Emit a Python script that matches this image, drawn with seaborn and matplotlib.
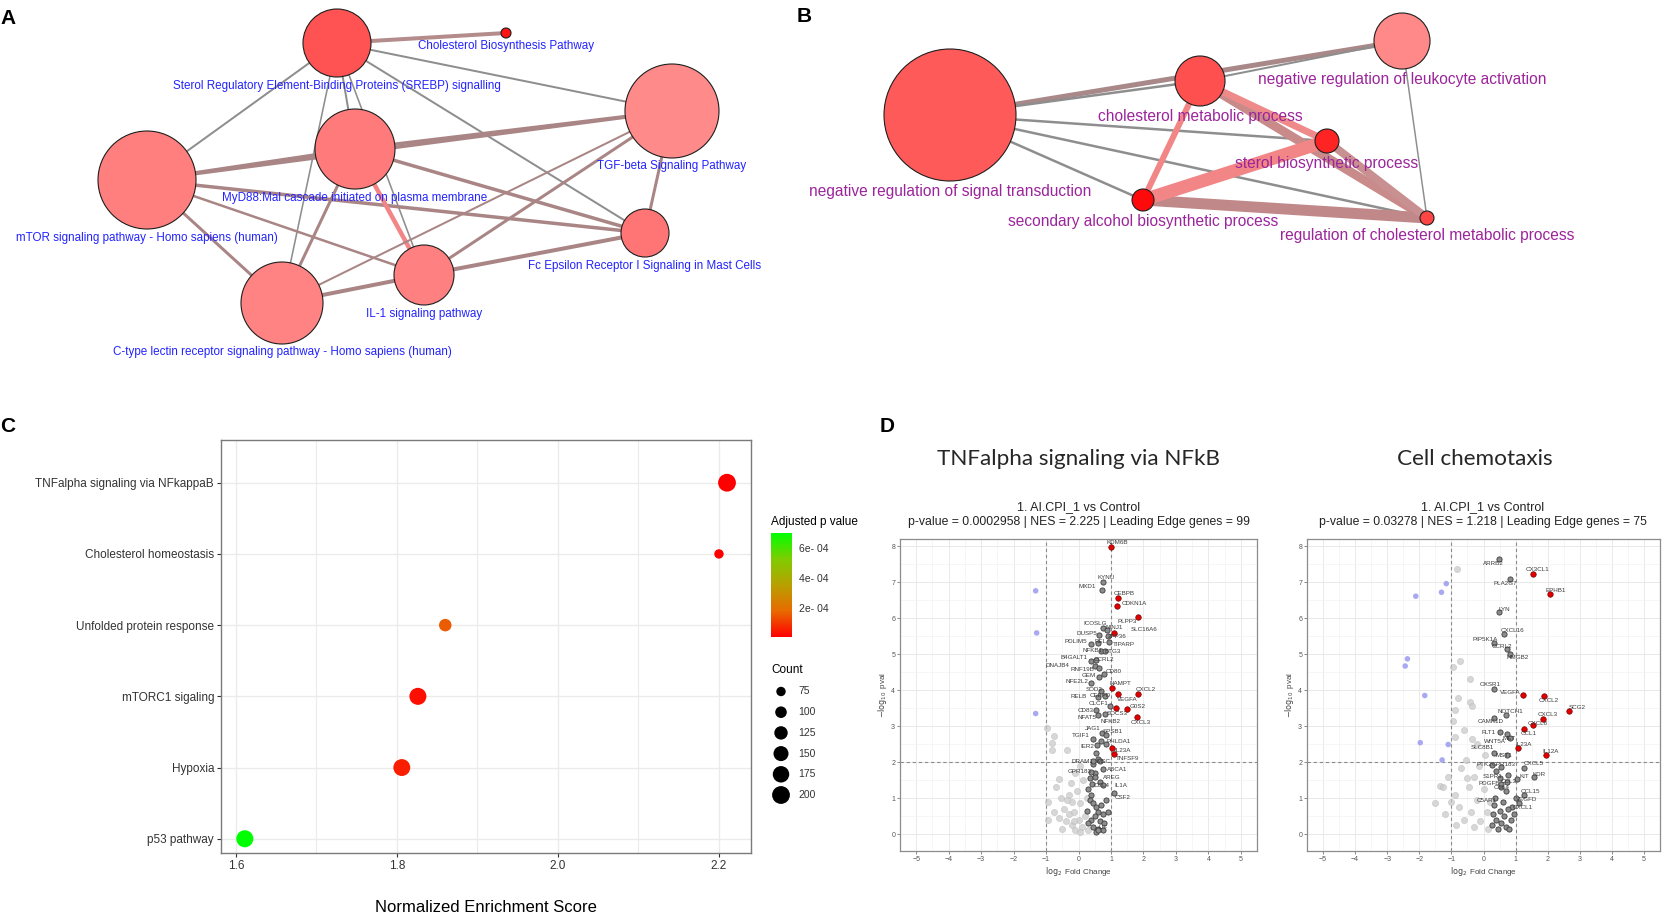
import numpy as np
import pandas as pd
import matplotlib
matplotlib.use('Agg')
import matplotlib.pyplot as plt
import seaborn as sns
from matplotlib.colors import LinearSegmentedColormap, Normalize
from matplotlib.patches import Circle
from matplotlib.cm import ScalarMappable

sns.set_theme(style='white')
plt.rcParams['font.family'] = ['Liberation Sans', 'DejaVu Sans']

W, H = 1668, 916

# ============================================================
# PANEL A - pathway network (Cytoscape style)
# ============================================================
a_nodes = ["Sterol Regulatory Element-Binding Proteins (SREBP) signalling",
           "Cholesterol Biosynthesis Pathway",
           "MyD88:Mal cascade initiated on plasma membrane",
           "TGF-beta Signaling Pathway",
           "mTOR signaling pathway - Homo sapiens (human)",
           "Fc Epsilon Receptor I Signaling in Mast Cells",
           "IL-1 signaling pathway",
           "C-type lectin receptor signaling pathway - Homo sapiens (human)"]
a_fill = ['#FF5252', '#FF1414', '#FF7A7A', '#FF8A8A', '#FF7E7E', '#FF7474', '#FF8080', '#FF8383']
# layout in pixels (x, y, radius)
a_x = [337, 506, 355, 672, 147, 645, 424, 282]
a_y = [43, 33, 149, 111, 180, 233, 275, 303]
a_r = [34, 5, 40, 47, 49, 24, 30, 41]
# edges: (from, to, width px, colour)
brown, grey, salmon = '#A98585', '#8E8E8E', '#F28686'
a_edges = [(0, 1, 4.0, '#B48C8C'), (0, 3, 2.0, grey), (0, 4, 2.0, grey), (0, 2, 2.0, grey),
           (0, 6, 1.6, grey), (0, 7, 1.6, grey), (0, 5, 2.0, grey),
           (4, 2, 3.5, brown), (4, 3, 3.5, brown), (2, 3, 3.5, brown), (4, 5, 3.5, brown),
           (4, 6, 2.5, brown), (4, 7, 3.0, brown), (2, 5, 3.5, brown), (2, 6, 4.5, salmon),
           (2, 7, 3.0, brown), (7, 3, 2.0, brown), (6, 3, 3.0, brown), (6, 5, 4.0, brown),
           (7, 6, 4.0, brown), (3, 5, 3.0, brown)]

# ============================================================
# PANEL B - GO term network
# ============================================================
b_nodes = ["negative regulation of signal transduction",
           "cholesterol metabolic process",
           "negative regulation of leukocyte activation",
           "sterol biosynthetic process",
           "secondary alcohol biosynthetic process",
           "regulation of cholesterol metabolic process"]
b_fill = ['#FF5A5A', '#FF5050', '#FF8888', '#FF2424', '#FF0A0A', '#FF4444']
b_x = [950, 1200, 1402, 1327, 1143, 1427]
b_y = [115, 81, 41, 141, 200, 218]
b_r = [66, 25, 28, 12, 11, 7]
b_edges = [(0, 2, 5.0, '#A88888'), (0, 1, 2.5, grey), (1, 2, 2.0, grey), (0, 3, 2.5, grey),
           (0, 5, 2.5, grey), (0, 4, 2.5, grey), (2, 5, 1.5, grey),
           (1, 5, 9.0, '#C98A8A'), (4, 5, 11.0, '#C08888'), (3, 5, 8.0, '#C89090'),
           (1, 4, 6.0, salmon), (1, 3, 7.0, '#EE8A8A'), (4, 3, 13.0, salmon)]

# ============================================================
# PANEL C - GSEA hallmark dot plot
# ============================================================
pathways = ["TNFalpha signaling via NFkappaB", "Cholesterol homeostasis",
            "Unfolded protein response", "mTORC1 sigaling", "Hypoxia", "p53 pathway"]
nes = [2.21, 2.20, 1.86, 1.826, 1.806, 1.611]
padj = [0.9e-5, 1.1e-5, 1.6e-4, 3.5e-5, 6.0e-5, 7.0e-4]
counts = [200, 53, 112, 185, 183, 186]
count_breaks = [75, 100, 125, 150, 175, 200]
padj_breaks = [2e-4, 4e-4, 6e-4]

# ============================================================
# PANEL D - volcano plots
# ============================================================
tnf_genes = ["KDM6B", "KYNU", "MXD1", "CEBPB", "CDKN1A", "PLPP3", "ICOSLG", "NINJ1", "SLC16A6",
             "DUSP5", "ZFP36", "PDLIM5", "REL", "TIPARP", "NFKB1", "BTG3", "B4GALT1", "CCRL2",
             "DNAJB4", "RNF19B", "CD80", "GEM", "NFE2L2", "NAMPT", "SOD2", "CXCL2", "VEGFA",
             "RELB", "CEBPD", "CLCF1", "G0S2", "SOCS3", "CD83", "NFAT5", "NFKB2", "CXCL3",
             "JAG1", "SPSB1", "TGIF1", "PHLDA1", "IER2", "IL23A", "TNFSF9", "DRAM1", "MSC",
             "GPR183", "ABCA1", "AREG", "CCL4", "IL1A", "CSF2", "LIF"]
tnf_fc = [1.01, 0.74, 0.72, 1.22, 1.20, 1.82, 0.77, 0.87, 1.09,
          0.63, 0.92, 0.40, 0.59, 0.94, 0.70, 0.82, 0.40, 0.55,
          0.50, 0.63, 0.78, 0.63, 0.37, 1.03, 0.68, 1.84, 1.21,
          0.61, 0.81, 0.97, 1.48, 1.17, 0.53, 0.61, 0.81, 1.81,
          0.73, 0.84, 0.45, 0.85, 0.57, 1.04, 1.08, 0.45, 0.67,
          0.37, 0.76, 0.50, 0.43, 0.76, 1.09, 0.60]
tnf_p = [7.98, 7.00, 6.78, 6.56, 6.33, 6.04, 5.73, 5.66, 5.60,
         5.53, 5.50, 5.27, 5.30, 5.34, 5.09, 5.09, 4.81, 4.85,
         4.68, 4.62, 4.46, 4.37, 4.19, 4.05, 3.98, 3.88, 3.89,
         3.80, 3.83, 3.56, 3.48, 3.51, 3.46, 3.31, 3.35, 3.24,
         2.80, 2.76, 2.64, 2.50, 2.47, 2.40, 2.23, 2.02, 2.03,
         1.73, 1.82, 1.59, 1.39, 1.36, 1.13, 0.10]
tnf_lead = ["KDM6B", "CEBPB", "CDKN1A", "PLPP3", "SLC16A6", "NAMPT", "CXCL2", "VEGFA",
            "G0S2", "SOCS3", "CXCL3", "IL23A", "TNFSF9"]
tnf_other_fc = [0.30, 0.40, 0.35, 0.45, 0.55, 0.60, 0.50, 0.40, 0.65, 0.70, 0.75, 0.30, 0.45,
                0.60, 0.80, 0.85, 0.35, 0.50, 0.65, 0.25, 0.55, 0.75, 0.90, 0.45, 0.60, 0.55, 0.70]
tnf_other_p = [1.25, 1.10, 0.95, 0.85, 0.75, 0.60, 0.50, 0.40, 0.35, 0.80, 0.55, 0.30, 0.20,
               0.15, 0.30, 0.95, 1.55, 1.70, 1.45, 0.65, 0.05, 0.10, 0.60, 1.95, 2.10, 2.25, 2.60]
tnf_bg_fc = [-0.98, -0.74, -0.83, -0.83, -0.35, -0.60, -0.24, -0.70, -0.95, -0.55, -0.30, -0.20,
             -0.45, -0.30, -0.15, -0.05, 0.05, -0.60, -0.40, -0.20, 0.00, 0.10, -0.10, 0.20,
             0.25, -0.75, -0.50, 0.15, -0.10, 0.05, 0.30, -0.35, -0.15, 0.05, -0.95]
tnf_bg_p = [2.95, 2.72, 2.52, 2.35, 2.33, 1.53, 1.41, 1.30, 0.90, 1.00, 1.10, 0.90,
            0.70, 0.55, 0.60, 1.20, 0.85, 0.45, 0.35, 0.25, 0.40, 0.20, 0.10, 0.50,
            1.00, 0.60, 0.15, 1.50, 1.70, 1.90, 0.10, 0.95, 0.35, 0.05, 0.40]
tnf_down_fc = [-1.32, -1.29, -1.32]
tnf_down_p = [6.76, 5.59, 3.35]

chem_genes = ["ARRB2", "CX3CL1", "PLA2G7", "EPHB1", "LYN", "CXCL16", "PIP5K1A", "CCRL2", "HMGB2",
              "OXSR1", "VEGFA", "CXCL2", "SCG2", "NOTCH1", "CXCL3", "CAMK1D", "CXCL8", "FLT1",
              "MET", "CCL1", "WNT5A", "IL23A", "SLC8B1", "MST1", "IL12A", "PTK2", "GPR183",
              "CXCL5", "S1PR1", "KIT", "KDR", "PDGFB", "CCL3", "CCL15", "CCL4", "VEGFD",
              "C5AR1", "CXCL1"]
chem_fc = [0.48, 1.54, 0.84, 2.07, 0.48, 0.64, 0.34, 0.74, 0.82,
           0.34, 1.23, 1.89, 2.65, 0.69, 1.85, 0.34, 1.54, 0.51,
           0.74, 1.26, 0.82, 1.07, 0.34, 0.72, 1.96, 0.27, 0.53,
           1.26, 0.51, 1.03, 1.57, 0.53, 0.74, 1.26, 0.69, 1.00,
           0.34, 0.76]
chem_p = [7.65, 7.23, 7.10, 6.66, 6.18, 5.56, 5.31, 5.13, 5.00,
          4.04, 3.86, 3.85, 3.43, 3.30, 3.20, 3.23, 3.02, 2.84,
          2.77, 2.93, 2.66, 2.38, 2.24, 2.19, 2.19, 1.92, 1.86,
          1.84, 1.56, 1.54, 1.58, 1.40, 1.45, 1.08, 1.19, 1.00,
          0.82, 0.71]
chem_lead = ["CX3CL1", "EPHB1", "VEGFA", "CXCL2", "SCG2", "CXCL3", "CXCL8", "CCL1", "IL23A", "IL12A"]
chem_other_fc = [0.30, 0.40, 0.50, 0.55, 0.65, 0.70, 0.45, 0.60, 0.85, 0.90, 0.35, 0.25, 0.80,
                 0.95, 0.55, 0.75, 0.40, 1.10]
chem_other_p = [0.55, 0.40, 0.65, 0.30, 0.50, 0.20, 0.15, 0.90, 0.40, 0.75, 1.00, 0.25, 0.15,
                0.55, 1.30, 1.65, 1.75, 0.85]
chem_bg_fc = [-0.82, -0.74, -0.95, -0.43, -0.80, -0.41, -0.35, -0.90, -0.95, -0.60, -0.35, -0.20,
              -0.90, -1.10, -1.35, -1.25, -1.50, -1.20, -0.90, -0.70, -0.55, -0.75, -0.45, -0.30,
              -0.15, -0.60, -0.40, -0.20, 0.00, -0.10, 0.10, 0.20, -0.30, 0.15, -0.85, -1.00,
              -0.50, 0.05]
chem_bg_p = [7.38, 4.82, 4.64, 4.32, 3.77, 3.68, 3.55, 3.45, 3.15, 2.90, 2.65, 2.50,
             2.70, 1.60, 1.35, 1.30, 0.85, 0.55, 1.10, 1.85, 2.05, 0.75, 1.30, 1.60,
             1.90, 0.40, 0.60, 0.95, 1.25, 0.35, 0.60, 0.90, 0.20, 0.15, 0.25, 0.90,
             1.55, 2.20]
chem_down_fc = [-1.16, -1.31, -2.11, -2.37, -2.44, -1.83, -1.97, -1.10, -1.29]
chem_down_p = [6.96, 6.72, 6.61, 4.87, 4.67, 3.85, 2.54, 2.49, 2.06]

# repelled label positions (label centres, in axis units)
tnf_lab_x = [1.19, 0.84, 0.27, 1.40, 1.71, 1.50, 0.51, 1.09, 2.02,
             0.27, 1.19, -0.09, 0.68, 1.40, 0.43, 1.06, -0.14, 0.78,
             -0.65, 0.12, 1.09, 0.32, -0.04, 1.30, 0.48, 2.07, 1.50,
             0.01, 0.68, 0.63, 1.81, 1.19, 0.22, 0.27, 0.99, 1.91,
             0.43, 1.04, 0.07, 1.25, 0.27, 1.35, 1.50, 0.12, 0.78,
             0.02, 1.19, 1.04, 0.70, 1.30, 1.35, 0.75]
tnf_lab_y = [8.09, 7.13, 6.87, 6.69, 6.41, 5.92, 5.85, 5.73, 5.69,
             5.57, 5.48, 5.34, 5.36, 5.28, 5.09, 5.06, 4.90, 4.85,
             4.68, 4.58, 4.53, 4.42, 4.23, 4.19, 4.02, 4.02, 3.74,
             3.83, 3.86, 3.64, 3.54, 3.35, 3.44, 3.24, 3.12, 3.10,
             2.94, 2.86, 2.75, 2.58, 2.44, 2.33, 2.10, 2.01, 2.01,
             1.73, 1.80, 1.56, 1.36, 1.36, 1.01, 0.17]
chem_lab_x = [0.32, 1.68, 0.69, 2.25, 0.64, 0.90, 0.06, 0.58, 1.05,
              0.22, 0.84, 2.04, 2.91, 0.84, 1.99, 0.22, 1.68, 0.17,
              0.79, 1.42, 0.37, 1.26, -0.04, 0.64, 2.09, 0.01, 0.64,
              1.57, 0.27, 1.26, 1.73, 0.17, 0.79, 1.47, 0.58, 1.36,
              0.11, 1.21]
chem_lab_y = [7.51, 7.35, 6.95, 6.77, 6.24, 5.66, 5.41, 5.20, 4.90,
              4.16, 3.93, 3.71, 3.53, 3.42, 3.32, 3.12, 3.06, 2.81,
              2.65, 2.79, 2.56, 2.49, 2.40, 2.19, 2.29, 1.92, 1.92,
              1.95, 1.61, 1.61, 1.66, 1.40, 1.47, 1.19, 1.29, 0.96,
              0.92, 0.75]


def rect(l, t, r, b):
    return [l / W, 1 - b / H, (r - l) / W, (b - t) / H]


fig = plt.figure(figsize=(W / 100, H / 100), dpi=100)

# overlay axes in pixel coordinates for the two networks + legend
ax0 = fig.add_axes([0, 0, 1, 1])
ax0.set_xlim(0, W)
ax0.set_ylim(H, 0)
ax0.axis('off')


def draw_network(nodes, xs, ys, rs, fills, edges, lab_col, lab_font, lab_size, gap):
    for i, j, w, c in edges:
        ax0.plot([xs[i], xs[j]], [ys[i], ys[j]], lw=w * 0.72, color=c,
                 solid_capstyle='butt', zorder=1)
    for k in range(len(nodes)):
        ax0.add_patch(Circle((xs[k], ys[k]), rs[k], facecolor=fills[k],
                             edgecolor='#1E1E1E', lw=0.8, zorder=3))
        ax0.text(xs[k], ys[k] + rs[k] + gap, nodes[k], color=lab_col, fontsize=lab_size,
                 family=lab_font, ha='center', va='center', zorder=4)


draw_network(a_nodes, a_x, a_y, a_r, a_fill, a_edges, '#2323FF',
             ['Liberation Sans Narrow', 'Liberation Sans', 'DejaVu Sans'], 8.4, 8.5)
draw_network(b_nodes, b_x, b_y, b_r, b_fill, b_edges, '#9B259B',
             ['Liberation Sans', 'DejaVu Sans'], 11.2, 10.5)

for lab, (px, py) in zip("ABCD", [(0, 18), (797, 16), (0, 427), (880, 427)]):
    ax0.text(px, py, lab, fontsize=15, fontweight='bold', ha='left', va='center', color='black')

# ============================================================
# PANEL C
# ============================================================
cmap = LinearSegmentedColormap.from_list(
    'padj', [(0, '#FF0000'), (0.25, '#E86A00'), (0.5, '#B8A000'), (0.75, '#80CC00'), (1, '#00FF00')])
norm = Normalize(vmin=min(padj), vmax=max(padj))
s_min, s_max = (9.4 * 0.72) ** 2, (17.8 * 0.72) ** 2

dfc = pd.DataFrame({'Pathway': pathways, 'NES': nes, 'padj': padj, 'Count': counts})
axc = fig.add_axes(rect(221, 440, 751, 853))
sns.scatterplot(data=dfc, x='NES', y='Pathway', hue='padj', size='Count', palette=cmap,
                hue_norm=norm, sizes=(s_min, s_max), size_norm=(75, 200), legend=False,
                edgecolor='none', ax=axc, zorder=3)
axc.set_xlim(1.5814, 2.2398)
axc.set_ylim(5.2, -0.6)
axc.set_xticks([1.6, 1.8, 2.0, 2.2])
axc.set_xticklabels(['1.6', '1.8', '2.0', '2.2'])
axc.set_xticks([1.7, 1.9, 2.1], minor=True)
axc.grid(True, which='major', color='#EBEBEB', lw=1.0)
axc.grid(True, which='minor', axis='x', color='#EBEBEB', lw=0.8)
axc.set_axisbelow(True)
for s in axc.spines.values():
    s.set_color('#7A7A7A')
    s.set_linewidth(1.0)
axc.tick_params(axis='both', which='major', length=3, width=0.8, color='#333333',
                labelsize=8.5, labelcolor='#333333', pad=2, bottom=True, left=True)
axc.tick_params(axis='x', which='minor', length=0)
axc.set_ylabel('')
axc.set_xlabel('Normalized Enrichment Score', fontsize=12, color='black')
axc.xaxis.label.set_va('center')
axc.xaxis.set_label_coords(0.5, -(908 - 853) / (853 - 440))

# colour bar legend
cax = fig.add_axes(rect(771, 533, 792, 637))
cb = fig.colorbar(ScalarMappable(norm=norm, cmap=cmap), cax=cax)
cb.outline.set_visible(False)
cb.set_ticks(padj_breaks)
cb.set_ticklabels(['%de- 04' % int(round(v * 1e4)) for v in padj_breaks])
cax.yaxis.set_ticks_position('both')
cax.tick_params(direction='in', length=4, width=0.8, color='white', labelsize=7.5,
                labelcolor='#333333', labelleft=False, labelright=True, pad=5)
ax0.text(771, 522, 'Adjusted p value', fontsize=8.5, ha='left', va='center', color='black')

# count legend
ax0.text(771, 670, 'Count', fontsize=8.5, ha='left', va='center', color='black')
for k, c in enumerate(count_breaks):
    yy = 691.5 + k * 20.7
    ax0.scatter([781], [yy], s=s_min + (c - 75) / 125 * (s_max - s_min), color='black',
                edgecolor='none', zorder=5)
    ax0.text(798, yy, str(c), fontsize=7.5, ha='left', va='center', color='#333333')

# ============================================================
# PANEL D
# ============================================================


def draw_volcano(ax, genes, fc, p, lead, lab_x, lab_y, o_fc, o_p, bg_fc, bg_p, dn_fc, dn_p):
    bg = pd.DataFrame({'fc': bg_fc, 'p': bg_p})
    sns.scatterplot(data=bg, x='fc', y='p', color='#CACACA', alpha=0.75, s=20,
                    edgecolor='#B8B8B8', linewidth=0.4, ax=ax, zorder=2)
    dn = pd.DataFrame({'fc': dn_fc, 'p': dn_p})
    sns.scatterplot(data=dn, x='fc', y='p', color='#A9A9F2', s=16, edgecolor='none', ax=ax, zorder=2)
    other = pd.DataFrame({'fc': o_fc, 'p': o_p})
    sns.scatterplot(data=other, x='fc', y='p', color='#8C8C8C', s=14,
                    edgecolor='#3C3C3C', linewidth=0.6, ax=ax, zorder=3)
    dg = pd.DataFrame({'gene': genes, 'fc': fc, 'p': p})
    dg['lead'] = dg['gene'].isin(lead)
    sns.scatterplot(data=dg[~dg['lead']], x='fc', y='p', color='#8C8C8C', s=14,
                    edgecolor='#3C3C3C', linewidth=0.6, ax=ax, zorder=3)
    sns.scatterplot(data=dg[dg['lead']], x='fc', y='p', color='#E00000', s=16,
                    edgecolor='#600000', linewidth=0.4, ax=ax, zorder=4)
    for g, lx, ly in zip(genes, lab_x, lab_y):
        ax.text(lx, ly, g, ha='center', va='center', fontsize=4.5, color='#3A3A3A', zorder=5)
    for xv in (-1, 1):
        ax.axvline(xv, color='#8A8A8A', ls=(0, (3, 2.5)), lw=0.8, zorder=1)
    ax.axhline(2, color='#8A8A8A', ls=(0, (3, 2.5)), lw=0.8, zorder=1)
    ax.set_xlim(-5.5, 5.5)
    ax.set_ylim(-0.47, 8.2)
    ax.set_xticks(range(-5, 6))
    ax.set_xticks(np.arange(-5.5, 5.6, 1.0), minor=True)
    ax.set_yticks(range(0, 9))
    ax.set_yticks(np.arange(0.5, 8.1, 1.0), minor=True)
    ax.grid(True, which='major', color='#E6E6E6', lw=0.6)
    ax.grid(True, which='minor', color='#F0F0F0', lw=0.4)
    ax.set_axisbelow(True)
    for s in ax.spines.values():
        s.set_color('#8C8C8C')
        s.set_linewidth(0.9)
    ax.tick_params(axis='both', which='major', length=2, width=0.6, color='#777777',
                   labelsize=5, labelcolor='#555555', pad=1.5, bottom=True, left=True)
    ax.tick_params(which='minor', length=0)
    ax.set_xlabel(r'$\log_2$ Fold Change', fontsize=5.8, color='#444444', labelpad=1.5)
    ax.set_ylabel(r'$-\log_{10}$ pval', fontsize=5.8, color='#444444', labelpad=1.5)


axl = fig.add_axes(rect(900, 539, 1257, 851))
draw_volcano(axl, tnf_genes, tnf_fc, tnf_p, tnf_lead, tnf_lab_x, tnf_lab_y, tnf_other_fc,
             tnf_other_p, tnf_bg_fc, tnf_bg_p, tnf_down_fc, tnf_down_p)
axr = fig.add_axes(rect(1307, 539, 1660, 851))
draw_volcano(axr, chem_genes, chem_fc, chem_p, chem_lead, chem_lab_x, chem_lab_y, chem_other_fc,
             chem_other_p, chem_bg_fc, chem_bg_p, chem_down_fc, chem_down_p)

for cx, tx, title, sub in [(1079, 1079, 'TNFalpha signaling via NFkB',
                            'p-value = 0.0002958 | NES = 2.225 | Leading Edge genes = 99'),
                           (1483, 1475, 'Cell chemotaxis',
                            'p-value = 0.03278 | NES = 1.218 | Leading Edge genes = 75')]:
    ax0.text(tx, 459, title, fontsize=16.2, family=['Lato', 'DejaVu Sans'],
             ha='center', va='center', color='#262626')
    ax0.text(cx, 507, '1. AI.CPI_1 vs Control', fontsize=9, ha='center', va='center', color='#222222')
    ax0.text(cx, 522, sub, fontsize=8.8, ha='center', va='center', color='#222222')

fig.savefig('out.png', dpi=100, facecolor='white')
